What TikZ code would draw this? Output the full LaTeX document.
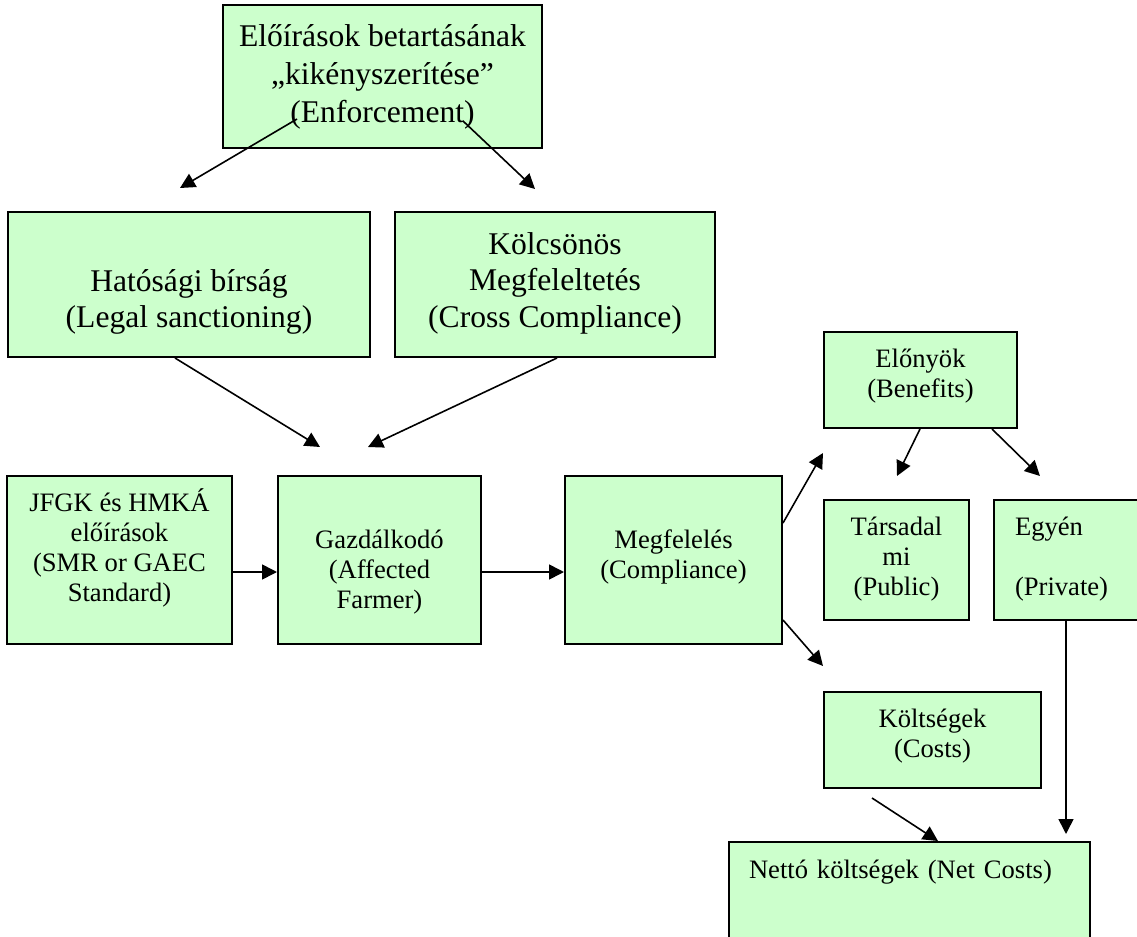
\documentclass[tikz,border=0pt]{standalone}
\usepackage{fontspec}
\setmainfont{Liberation Serif}
\usetikzlibrary{arrows.meta, positioning, calc}
\definecolor{boxgreen}{HTML}{CCFFCC}
\newcommand{\padtop}[1]{\rule{0pt}{#1}}
\newcommand{\padbot}[1]{\rule[-#1]{0pt}{0pt}}
\tikzset{
    box/.style={rectangle, draw, line width=1pt, fill=boxgreen, align=center, inner sep=0pt, font=\fontsize{13.3pt}{15pt}\selectfont},
    bigtext/.style={font=\fontsize{15.8pt}{18.3pt}\selectfont},
    arrow/.style={line width=0.8pt, -{Triangle[length=7.5pt, width=7.5pt]}}
}

\begin{document}
\begin{tikzpicture}[x=0.5pt, y=-0.5pt]
    \useasboundingbox (0,0) rectangle (1137,937);
    \clip (0,0) rectangle (1137,937);

    % Top: enforcement and its two forms
    \node (enf) [box, bigtext, font=\fontsize{15.8pt}{19pt}\selectfont, minimum width=159.5pt, minimum height=71.5pt] at (382.5,76.5) {\padtop{15pt}Előírások betartásának\\„kikényszerítése”\\(Enforcement)\padbot{7.5pt}};
    \node (sanc) [box, bigtext, minimum width=181pt, minimum height=72.5pt] at (189,284.5) {\padtop{30pt}Hatósági bírság\\(Legal sanctioning)\padbot{5pt}};
    \node (cross) [box, bigtext, right=11.5pt of sanc, minimum width=160pt, minimum height=72.5pt] {\padtop{15pt}Kölcsönös\\Megfeleltetés\\(Cross Compliance)\padbot{8.9pt}};

    % Middle row
    \node (jfgk) [box, minimum width=112.5pt, minimum height=84pt] at (119.5,560) {\padtop{12pt}JFGK és HMKÁ\\előírások\\(SMR or GAEC\\Standard)\padbot{15.3pt}};
    \node (farmer) [box, right=22pt of jfgk, minimum width=101.5pt, minimum height=84pt] {\padtop{22pt}Gazdálkodó\\(Affected\\Farmer)\padbot{4pt}};
    \node (compl) [box, right=41pt of farmer, minimum width=108.5pt, minimum height=84pt] {\padtop{12pt}Megfelelés\\(Compliance)\padbot{9pt}};

    % Benefits and costs
    \node (benef) [box, minimum width=96.5pt, minimum height=48pt] at (920.5,380) {\padtop{12pt}Előnyök\\(Benefits)\padbot{10pt}};
    \node (public) [box, minimum width=72.5pt, minimum height=60pt] at (896.5,560) {\padtop{12pt}Társadal\\mi\\(Public)\padbot{7pt}};
    \node (private) [box, right=11.5pt of public, align=left, text width=51pt, inner xsep=10.5pt, minimum height=60pt] {\padtop{12pt}Egyén\\[15pt](Private)\padbot{7pt}};
    \node (costs) [box, minimum width=108.5pt, minimum height=48pt] at (932.5,740) {\padtop{12pt}Költségek\\(Costs)\padbot{10pt}};
    \node (net) [box, align=left, text width=160.5pt, inner xsep=10pt, minimum height=65pt, anchor=north west] at (728,841) {\padtop{12pt}Nettó költségek (Net Costs)\padbot{41pt}};

    % Free arrow ends
    \coordinate (tsanc) at (180,188);
    \coordinate (tcross) at (535,189);
    \coordinate (tfarm1) at (320,447);
    \coordinate (tfarm2) at (368,447);
    \coordinate (tbenef) at (823,453);
    \coordinate (tcosts) at (823,666);
    \coordinate (tpublic) at (897,476);
    \coordinate (tprivate) at (1040,476);
    \coordinate (scosts) at (872,798);

    % Arrows
    \draw [arrow] ([shift={(-42.75pt,15pt)}]enf.south) -- (tsanc);
    \draw [arrow] ([shift={(40.25pt,14pt)}]enf.south) -- (tcross);
    \draw [arrow] ([xshift=-7pt]sanc.south) -- (tfarm1);
    \draw [arrow] ([xshift=1pt]cross.south) -- (tfarm2);
    \draw [arrow] ([yshift=-6pt]jfgk.east) -- ([yshift=-6pt]farmer.west);
    \draw [arrow] ([yshift=-6pt]farmer.east) -- ([yshift=-6pt]compl.west);
    \draw [arrow] ([yshift=18.5pt]compl.east) -- (tbenef);
    \draw [arrow] ([yshift=-30pt]compl.east) -- (tcosts);
    \draw [arrow] ([xshift=-0.25pt]benef.south) -- (tpublic);
    \draw [arrow] ([xshift=35.75pt]benef.south) -- (tprivate);
    \draw [arrow] (scosts) -- ([xshift=14.25pt]net.north);
    \draw [arrow, shorten >=3.5pt] (private.south) -- (private.south |- net.north);

\end{tikzpicture}
\end{document}
